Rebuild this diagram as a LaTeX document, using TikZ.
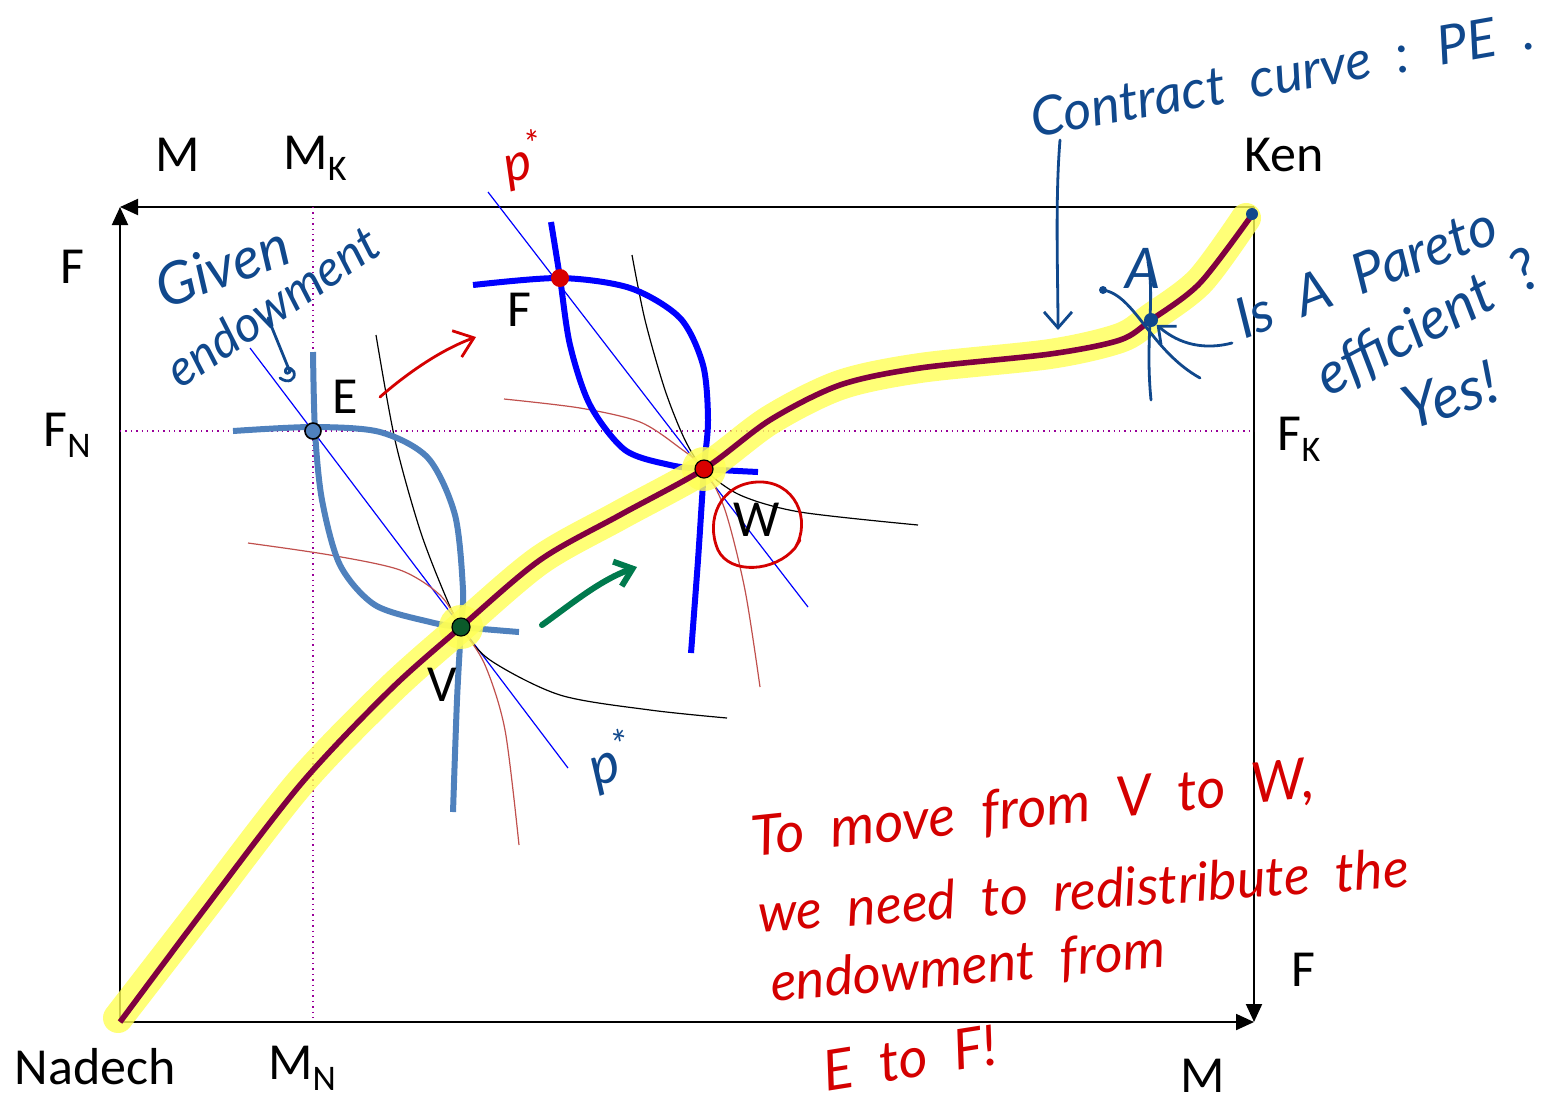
\documentclass[tikz,border=0pt]{standalone}
\usepackage{fontspec}
\setmainfont{Carlito}
\newfontfamily\hand{Lato}
\usetikzlibrary{arrows.meta}
\definecolor{handblue}{HTML}{10488C}
\definecolor{handred}{HTML}{D40000}
\definecolor{steel}{HTML}{4F81BD}
\definecolor{ccpurple}{HTML}{800040}
\definecolor{hilite}{HTML}{FFFF55}
\definecolor{arrgreen}{HTML}{007A4D}
\definecolor{dotpurple}{HTML}{990099}
\definecolor{thinred}{HTML}{C0504D}
\definecolor{vgreen}{HTML}{0B5A2A}
\begin{document}
\begin{tikzpicture}[x=0.5pt,y=-0.5pt,
 axis/.style={line width=1pt,-{Triangle[length=9pt,width=8pt]}},
 dotline/.style={draw=dotpurple,line width=0.7pt,dotted},
 lbl/.style={font=\fontsize{26}{30}\selectfont, inner sep=0pt},
 sbcurve/.style={draw=steel,line width=3pt},
 bcurve/.style={draw=blue,line width=3pt},
 thinblack/.style={draw=black,line width=0.6pt},
 thinredc/.style={draw=thinred,line width=0.6pt},
 price/.style={draw=blue,line width=0.6pt},
 handtxt/.style={font=\hand\itshape\fontsize{#1}{#1}\selectfont, inner sep=0pt},
 ink/.style={line width=1.4pt, line cap=round, line join=round},
 dot/.style={circle, inner sep=0pt, minimum size=#1},
]
\useasboundingbox (0,0) rectangle (1551,1100);

% corners
\coordinate (O) at (120,1022);
\coordinate (TL) at (120,207);
\coordinate (K) at (1254,207);
\coordinate (BR) at (1254,1022);
\draw[axis] (O) -- (TL);
\draw[axis] (K) -- (TL);
\draw[axis] (K) -- (BR);
\draw[axis] (O) -- (BR);

% dotted endowment lines
\coordinate (MKt) at (313,207);
\coordinate (MNb) at (313,1022);
\coordinate (FNl) at (120,431);
\coordinate (FKr) at (1254,431);
\draw[dotline] (MKt) -- (MNb);
\draw[dotline] (FNl) -- (FKr);

% axis labels
\node[lbl] (mtop) at (178,155) {M};
\node[lbl] (mk) at (315,158) {M\raisebox{-0.45ex}{\fontsize{18}{18}\selectfont K}};
\node[lbl] (ken) at (1284,155) {Ken};
\node[lbl] (fleft) at (72,267) {F};
\node[lbl] (fn) at (67,435) {F\raisebox{-0.45ex}{\fontsize{18}{18}\selectfont N}};
\node[lbl] (fk) at (1299,439) {F\raisebox{-0.45ex}{\fontsize{18}{18}\selectfont K}};
\node[lbl] (fright) at (1303,970) {F};
\node[lbl] (nadech) at (95,1067) {Nadech};
\node[lbl] (mn) at (302,1068) {M\raisebox{-0.45ex}{\fontsize{18}{18}\selectfont N}};
\node[lbl] (mbot) at (1203,1076) {M};

% price lines
\coordinate (p1s) at (250,348);
\coordinate (p1e) at (568,768);
\draw[price] (p1s) -- (p1e);
\coordinate (p2s) at (488,192);
\coordinate (p2e) at (808,607);
\draw[price] (p2s) -- (p2e);

% thin curves through V
\draw[thinblack] plot[smooth] coordinates {(376,335) (395,440) (420,530) (445,595) (461,627) (490,660) (560,695) (650,710) (727,718)};
\draw[thinredc] plot[smooth] coordinates {(248,543) (330,555) (400,570) (440,595) (461,627) (485,665) (505,730) (519,845)};
% thin curves through W
\draw[thinblack] plot[smooth] coordinates {(632,255) (645,320) (665,390) (685,440) (704,469) (740,495) (800,512) (918,525)};
\draw[thinredc] plot[smooth] coordinates {(504,399) (580,408) (640,422) (680,448) (704,469) (725,510) (745,590) (760,687)};

% steel blue indifference curves through E and V
\draw[sbcurve] plot[smooth] coordinates {(233,431) (313,427) (380,432) (428,458) (455,515) (463,590) (461,627) (457,700) (453,812)};
\draw[sbcurve] plot[smooth] coordinates {(313,352) (315,431) (322,500) (340,565) (375,605) (430,622) (461,627) (519,632)};

% blue indifference curves through F and W
\draw[bcurve] plot[smooth] coordinates {(473,285) (560,278) (630,288) (680,318) (703,365) (708,420) (704,469) (698,560) (691,653)};
\draw[bcurve] plot[smooth] coordinates {(551,222) (560,278) (570,345) (590,405) (625,450) (670,465) (704,469) (758,472)};

% contract curve
\draw[hilite, opacity=0.8, line width=15pt, line cap=round] plot[smooth] coordinates {(118,1018) (200,912) (300,783) (390,690) (461,627) (540,560) (620,515) (704,469) (770,420) (840,385) (920,368) (1050,354) (1120,338) (1151,318) (1200,281) (1246,218)};
\fill[hilite, opacity=0.8] (461,627) circle (22);
\fill[hilite, opacity=0.8] (704,469) circle (22);
\draw[ccpurple, line width=2.8pt] plot[smooth] coordinates {(120,1022) (200,915) (300,785) (390,690) (461,627) (540,560) (620,515) (704,469) (770,420) (840,385) (920,368) (1050,354) (1120,340) (1151,320) (1200,283) (1254,212)};

% points
\node[dot=8pt, fill=steel, draw=black, line width=0.8pt] (E) at (313,431) {};
\node[dot=9pt, fill=vgreen, draw=black, line width=0.6pt] (V) at (461,627) {};
\node[dot=9pt, fill=red!85!black, draw=black, line width=0.6pt] (W) at (704,469) {};
\node[dot=9pt, fill=red!85!black] (F) at (560,278) {};
\node[dot=7pt, fill=handblue] (A) at (1151,320) {};
\node[dot=6pt, fill=handblue] (Kdot) at (1252,214) {};

% point labels
\node[lbl] (Elbl) at (345,397) {E};
\node[lbl] (Flbl) at (519,310) {F};
\node[lbl] (Vlbl) at (442,685) {V};
\node[lbl] (Wlbl) at (757,520) {W};

% red circle round W
\draw[handred, ink] (795,548) .. controls (812,520) and (795,480) .. (757,482)
  .. controls (720,484) and (705,520) .. (718,550)
  .. controls (730,575) and (775,572) .. (795,548) -- (800,540);

% red arrow from E to F
\coordinate (ra1) at (380,397);
\coordinate (ra2) at (476,337);
\draw[handred, ink, -{Straight Barb[length=9pt,width=14pt]}] (ra1) .. controls (405,375) and (440,350) .. (ra2);

% green arrow from V to W
\coordinate (ga1) at (542,625);
\coordinate (ga2) at (637,567);
\draw[arrgreen, line width=3pt, line cap=round, -{Straight Barb[length=8pt,width=13pt]}] (ga1) .. controls (570,605) and (600,580) .. (ga2);

% p* labels
\node[handtxt=26, text=handred, rotate=15] (pstar1) at (524,160) {p\textsuperscript{*}};
\node[handtxt=28, text=handblue, rotate=20] (pstar2) at (612,762) {p\textsuperscript{*}};

% Given endowment
\node[handtxt=29, text=handblue, rotate=20] (given) at (222,266) {Given};
\node[handtxt=25, text=handblue, rotate=34] (endow) at (272,306) {endowment};
\coordinate (gE) at (290,372);
\draw[handblue, ink] (268,318) -- (gE) .. controls (282,378) and (285,360) .. (294,372) .. controls (296,380) and (288,384) .. (280,378);

% Contract curve annotation
\node[handtxt=27, text=handblue, rotate=10] (cc) at (1282,74) {Contract~ curve~ :~ PE~ .};
\coordinate (cca) at (1060,140);
\coordinate (ccb) at (1058,330);
\draw[handblue, ink, -{Straight Barb[length=8pt,width=14pt]}] (cca) .. controls (1055,200) and (1058,280) .. (ccb);

% A and its curves
\node[handtxt=28, text=handblue] (Alb) at (1143,268) {A};
\coordinate (Av1) at (1148,262);
\coordinate (Av2) at (1151,400);
\draw[handblue, ink] (Av1) .. controls (1155,300) and (1145,340) .. (Av2);
\coordinate (Aa1) at (1103,290);
\coordinate (Aa2) at (1200,378);
\draw[handblue, ink] (Aa1) .. controls (1135,295) and (1150,350) .. (Aa2);
\fill[handblue] (Aa1) circle (4);
\coordinate (Ais) at (1232,343);
\draw[handblue, ink, -{Straight Barb[length=7pt,width=12pt]}] (Ais) .. controls (1205,350) and (1180,345) .. (A);

% Is A Pareto efficient? Yes!
\node[handtxt=28, text=handblue, rotate=21] (isA) at (1366,272) {Is~ A~ Pareto};
\node[handtxt=29, text=handblue, rotate=28] (eff) at (1428,324) {efficient~ ?};
\node[handtxt=30, text=handblue, rotate=18] (yes) at (1450,395) {Yes!};

% red explanation
\node[handtxt=28, text=handred, rotate=6] (t1) at (1033,810) {To~ move~ from~ V~ to~ W,};
\node[handtxt=27, text=handred, rotate=4] (t2) at (1083,890) {we~ need~ to~ redistribute~ the};
\node[handtxt=27, text=handred, rotate=5] (t3) at (968,968) {endowment~ from};
\node[handtxt=28, text=handred, rotate=9] (t4) at (910,1058) {E~ to~ F!};
\end{tikzpicture}
\end{document}
